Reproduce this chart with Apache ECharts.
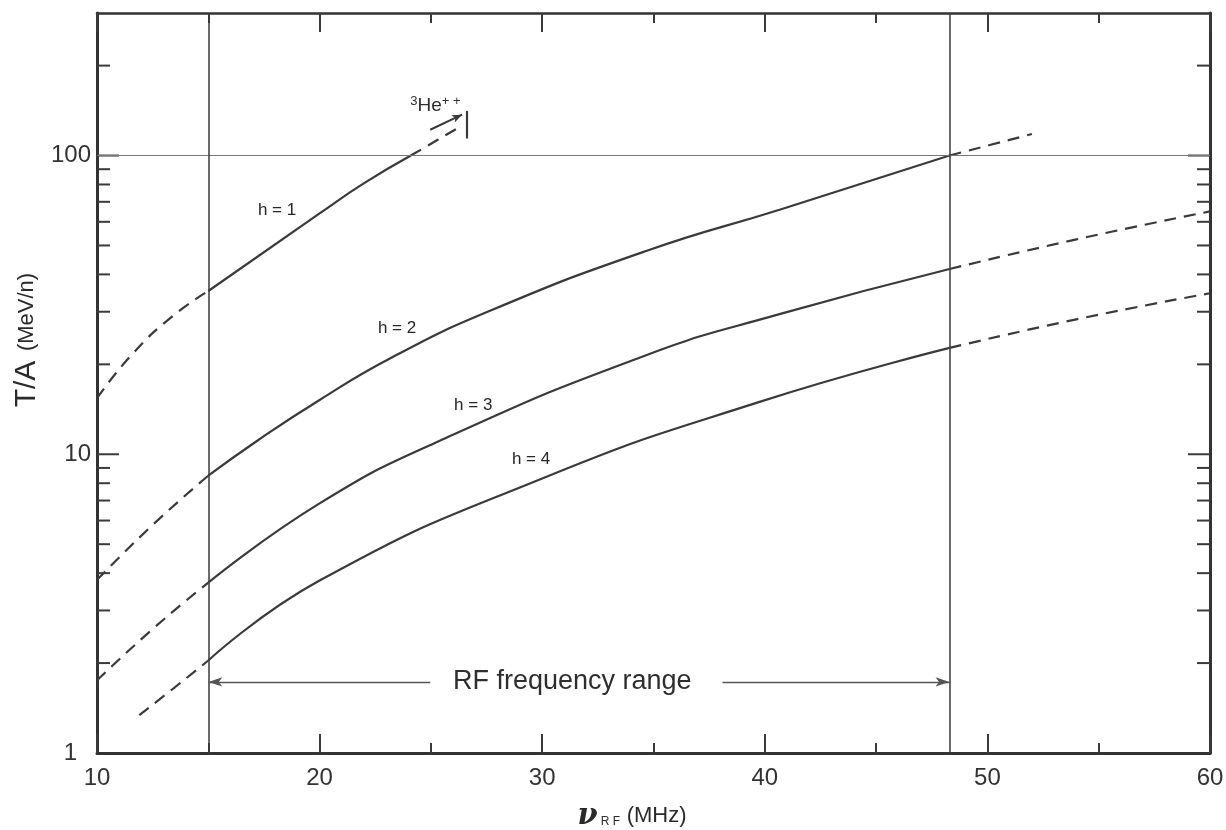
<!DOCTYPE html>
<html>
<head>
<meta charset="utf-8"/>
<title>T/A vs RF frequency</title>
<script src="https://cdn.jsdelivr.net/npm/echarts@6/dist/echarts.min.js"></script>
<style>
  html, body { margin: 0; padding: 0; background: #fff; }
  #chart { width: 1226px; height: 830px; }
</style>
</head>
<body>
<div id="chart"></div>
<script>
// curves: [MHz, MeV/n]
var h1Dashed = [[10, 15.4], [11.6, 21.7], [13.4, 29], [15, 35.2]];
var h1Solid  = [[15, 35.2], [20, 64], [22, 80.8], [24.1, 100]];
var h1Ext    = [[24.1, 100], [26.4, 126]];

var h2Dashed = [[10, 3.8], [12.5, 5.8], [15, 8.48]];
var h2Solid  = [[15, 8.48], [17.2, 11.1], [20, 15.2], [23.2, 21], [27.6, 30.1], [34.7, 48], [40.7, 66], [48.3, 100]];
var h2Ext    = [[48.3, 100], [52, 118]];

var h3Dashed = [[10, 1.75], [12.5, 2.6], [15, 3.72]];
var h3Solid  = [[15, 3.72], [20, 6.85], [25.4, 11.1], [34.7, 21.5], [40.7, 29.5], [48.3, 41.7]];
var h3Ext    = [[48.3, 41.7], [54, 52.4], [60, 65]];

var h4Dashed = [[11.9, 1.34], [13.5, 1.66], [15, 2.04]];
var h4Solid  = [[15, 2.04], [20, 3.78], [30, 8.3], [39.8, 15], [48.3, 22.7]];
var h4Ext    = [[48.3, 22.7], [54, 28.3], [60, 34.6]];

// axis ticks
var xTickLabels = [10, 20, 30, 40, 50, 60];
var yLabelValues = [1, 10, 100];
var yMajorTicks = [10, 100];
var yMinorTicks = [2, 3, 4, 5, 6, 7, 8, 9, 20, 30, 40, 50, 60, 70, 80, 90, 200];

// annotations (data coordinates)
var rfRange = [15, 48.3];
var rfArrowY = 1.73;
var rfLeftEnd = 24.97, rfRightStart = 38.1, rfTextX = 31.35;
var curveLabels = [
  { name: 'h = 1', coord: [18.09, 65.5] },
  { name: 'h = 2', coord: [23.48, 26.45] },
  { name: 'h = 3', coord: [26.9, 14.6] },
  { name: 'h = 4', coord: [29.5, 9.59] }
];
var heLabel = [25.2, 147];
var heArrow = [[24.97, 122], [26.4, 137]];
var heBar = [[26.63, 114], [26.63, 141]];

var INK = '#3a3a3a';
var FONT = '"Liberation Sans", Arial, sans-serif';

var chart = echarts.init(document.getElementById('chart'));

function curve(name, data, dashed) {
  return {
    name: name,
    type: 'line',
    data: data,
    smooth: 0.5,
    showSymbol: false,
    silent: true,
    lineStyle: { color: INK, width: 2.2, type: dashed ? [12, 8] : 'solid' },
    z: 3
  };
}

var series = [
  curve('h1 dashed', h1Dashed, true), curve('h1', h1Solid, false), curve('h1 ext', h1Ext, true),
  curve('h2 dashed', h2Dashed, true), curve('h2', h2Solid, false), curve('h2 ext', h2Ext, true),
  curve('h3 dashed', h3Dashed, true), curve('h3', h3Solid, false), curve('h3 ext', h3Ext, true),
  curve('h4 dashed', h4Dashed, true), curve('h4', h4Solid, false), curve('h4 ext', h4Ext, true)
];

// reference lines, arrows and text hang off the h=2 series
series[4].markLine = {
  silent: true,
  symbol: 'none',
  label: { show: false },
  animation: false,
  data: [
    [{ coord: [10, 100], lineStyle: { color: '#777', width: 1.2, type: 'solid' } }, { coord: [60, 100] }],
    [{ coord: [rfRange[0], 1], lineStyle: { color: INK, width: 1.5, type: 'solid' } }, { coord: [rfRange[0], 300] }],
    [{ coord: [rfRange[1], 1], lineStyle: { color: INK, width: 1.5, type: 'solid' } }, { coord: [rfRange[1], 300] }],
    [{ coord: [rfLeftEnd, rfArrowY], symbol: 'none', lineStyle: { color: '#555', width: 1.3, type: 'solid' } },
     { coord: [rfRange[0], rfArrowY], symbol: 'arrow', symbolSize: [7, 14] }],
    [{ coord: [rfRightStart, rfArrowY], symbol: 'none', lineStyle: { color: '#555', width: 1.3, type: 'solid' } },
     { coord: [rfRange[1], rfArrowY], symbol: 'arrow', symbolSize: [7, 14] }],
    [{ coord: heArrow[0], symbol: 'none', lineStyle: { color: INK, width: 2, type: 'solid' } },
     { coord: heArrow[1], symbol: 'arrow', symbolSize: [6, 10] }],
    [{ coord: heBar[0], lineStyle: { color: INK, width: 2.2, type: 'solid' } }, { coord: heBar[1] }]
  ]
};
series[4].markPoint = {
  silent: true,
  symbol: 'circle',
  symbolSize: 0,
  animation: false,
  data: curveLabels.map(function (c) {
    return {
      coord: c.coord,
      label: { show: true, formatter: c.name, position: 'inside', color: '#262626', fontSize: 17, fontFamily: FONT }
    };
  }).concat([
    {
      coord: [rfTextX, rfArrowY],
      label: { show: true, formatter: 'RF frequency range', position: 'inside', color: '#2e2e2e', fontSize: 27, fontFamily: FONT }
    },
    {
      coord: heLabel,
      label: {
        show: true, position: 'inside', formatter: '{s|3}{m|He}{s|+ +}',
        rich: {
          s: { fontSize: 13, color: '#2e2e2e', fontFamily: FONT, verticalAlign: 'top', padding: [0, 0, 9, 0] },
          m: { fontSize: 19, color: '#2e2e2e', fontFamily: FONT }
        }
      }
    }
  ])
};

// y ticks on both sides, placed through the log scale
series.push({
  name: 'yticks',
  type: 'custom',
  silent: true,
  data: yMinorTicks.map(function (v) { return [v, 13]; }).concat(yMajorTicks.map(function (v) { return [v, 22]; })),
  renderItem: function (params, api) {
    var v = api.value(0), len = api.value(1);
    var l = api.coord([10, v]);
    var r = api.coord([60, v]);
    var style = { stroke: INK, lineWidth: 2 };
    return {
      type: 'group',
      children: [
        { type: 'line', shape: { x1: l[0], y1: l[1], x2: l[0] + len, y2: l[1] }, style: style },
        { type: 'line', shape: { x1: r[0], y1: r[1], x2: r[0] - len, y2: r[1] }, style: style }
      ]
    };
  },
  encode: { x: -1, y: 0 },
  z: 4
});

var xBase = {
  type: 'value',
  min: 10,
  max: 60,
  interval: 10,
  splitLine: { show: false },
  axisTick: { show: true, inside: true, length: 19, lineStyle: { color: INK, width: 2 } },
  minorTick: { show: true, splitNumber: 2, length: 10, lineStyle: { color: INK, width: 2 } }
};

var yBase = {
  type: 'log',
  logBase: 10,
  min: 1,
  max: 300,
  splitLine: { show: false },
  axisTick: { show: false }
};

option = {
  animation: false,
  backgroundColor: '#fff',
  grid: { left: 97, right: 16, top: 13, bottom: 77, outerBoundsMode: 'none' },
  xAxis: [
    Object.assign({}, xBase, {
      position: 'bottom',
      axisLine: { lineStyle: { color: '#333', width: 3 } },
      axisLabel: {
        margin: 13, color: '#333', fontSize: 24, fontFamily: FONT,
        formatter: function (v) { return xTickLabels.indexOf(v) >= 0 ? String(v) : ''; }
      }
    }),
    Object.assign({}, xBase, {
      position: 'top',
      axisLine: { lineStyle: { color: '#333', width: 2.5 } },
      axisLabel: { show: false }
    })
  ],
  yAxis: [
    Object.assign({}, yBase, {
      position: 'left',
      axisLine: { show: true, lineStyle: { color: '#333', width: 3 } },
      axisLabel: {
        margin: 6, color: '#333', fontSize: 24, fontFamily: FONT,
        formatter: function (v) {
          var r = Math.round(v);
          if (Math.abs(v - r) > 1e-6 || yLabelValues.indexOf(r) < 0) return '';
          return r === 1 ? '{one|1}' : String(r);
        },
        rich: { one: { fontSize: 24, color: '#333', fontFamily: FONT, padding: [0, 14, 0, 0] } }
      }
    }),
    Object.assign({}, yBase, {
      position: 'right',
      axisLine: { show: true, lineStyle: { color: '#333', width: 3 } },
      axisLabel: { show: false }
    })
  ],
  graphic: [
    {
      type: 'text',
      x: 27, y: 384,
      rotation: Math.PI / 2,
      style: {
        text: 'T/A', align: 'center', verticalAlign: 'middle',
        fontSize: 30, fill: '#2a2a2a', fontFamily: FONT
      }
    },
    {
      type: 'text',
      x: 27, y: 312,
      rotation: Math.PI / 2,
      style: {
        text: '(MeV/n)', align: 'center', verticalAlign: 'middle',
        fontSize: 22, fill: '#2a2a2a', fontFamily: FONT
      }
    },
    {
      type: 'text',
      x: 632, y: 816,
      style: {
        text: '{nu|ν}{sub|R F}  {b|(MHz)}',
        align: 'center', verticalAlign: 'middle',
        rich: {
          nu: { fontSize: 29, fontWeight: 'bold', fontStyle: 'italic', fill: '#2a2a2a', fontFamily: '"DejaVu Serif", serif' },
          sub: { fontSize: 12, fill: '#2a2a2a', fontFamily: FONT, padding: [11, 0, 0, 3] },
          b: { fontSize: 22, fill: '#2a2a2a', fontFamily: FONT }
        }
      }
    }
  ],
  series: series
};

chart.setOption(option);
window.onresize = chart.resize;
</script>
</body>
</html>
